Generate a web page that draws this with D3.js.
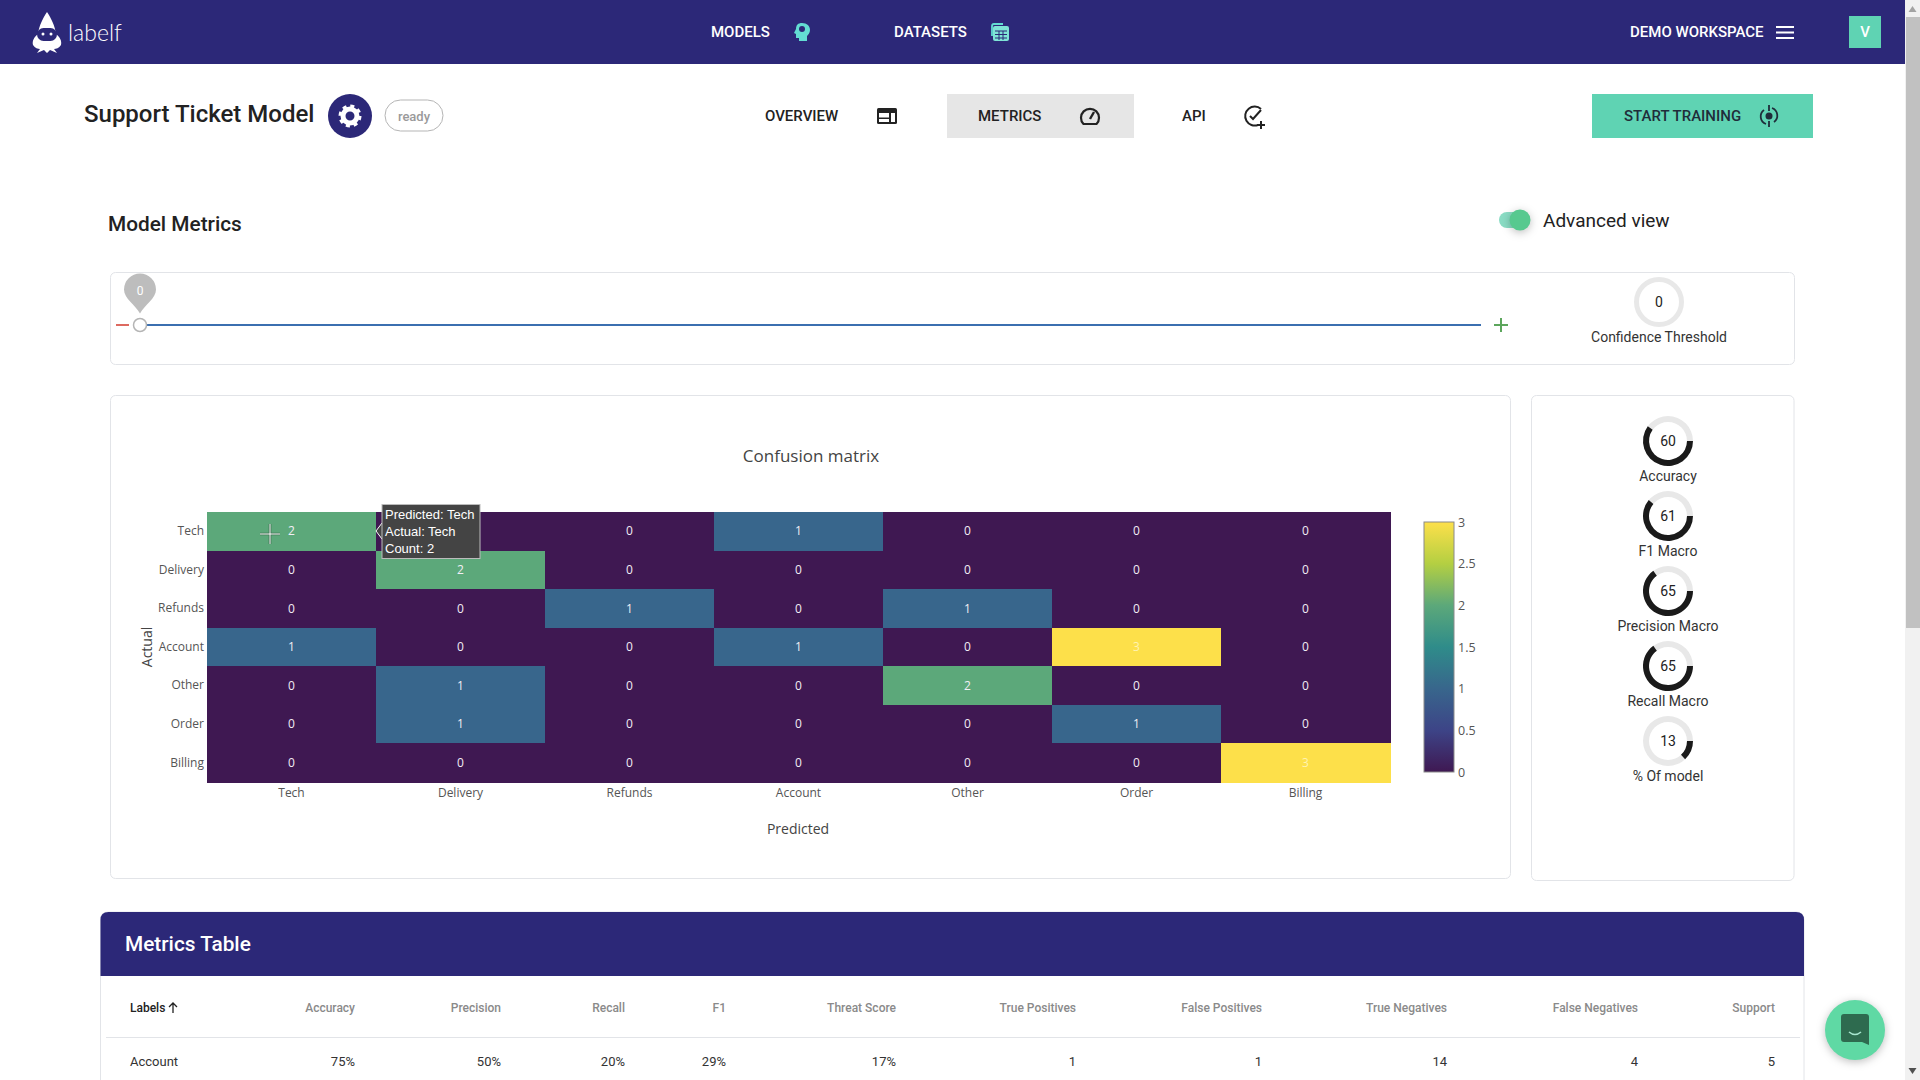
<!DOCTYPE html>
<html>
<head>
<meta charset="utf-8">
<title>Support Ticket Model</title>
<script src="https://cdn.jsdelivr.net/npm/d3@7"></script>
<style>
  html, body { margin: 0; padding: 0; background: #fff; overflow: hidden; }
  svg { display: block; }
  text { font-family: Roboto, sans-serif; }
  .plot text { font-family: "Open Sans", sans-serif; }
  .axis path, .axis line { display: none; }
  .shadow { filter: drop-shadow(0 2px 4px rgba(0, 0, 0, 0.25)); }
</style>
</head>
<body>
<div id="page"></div>
<script>
// Confusion matrix values
var predicted = ["Tech", "Delivery", "Refunds", "Account", "Other", "Order", "Billing"];
var actual = ["Tech", "Delivery", "Refunds", "Account", "Other", "Order", "Billing"];
var techRow = [2, 0, 0, 1, 0, 0, 0];
var deliveryRow = [0, 2, 0, 0, 0, 0, 0];
var refundsRow = [0, 0, 1, 0, 1, 0, 0];
var accountRow = [1, 0, 0, 1, 0, 3, 0];
var otherRow = [0, 1, 0, 0, 2, 0, 0];
var orderRow = [0, 1, 0, 0, 0, 1, 0];
var billingRow = [0, 0, 0, 0, 0, 0, 3];
var matrixRows = [techRow, deliveryRow, refundsRow, accountRow, otherRow, orderRow, billingRow];

// Colour bar
var colorValues = [0, 0.5, 1, 1.5, 2, 2.5, 3];
var colorRange = ["#3f1852", "#3d4487", "#38668c", "#2f8c8a", "#5ca87a", "#b4cf42", "#fde04a"];
var colorTicks = [0, 0.5, 1, 1.5, 2, 2.5, 3];

// Ring gauges
var ringLabels = ["Accuracy", "F1 Macro", "Precision Macro", "Recall Macro", "% Of model"];
var ringValues = [60, 61, 65, 65, 13];

// Metrics table
var tableHeaders = ["Accuracy", "Precision", "Recall", "F1", "Threat Score", "True Positives", "False Positives", "True Negatives", "False Negatives", "Support"];
var tableRow = ["75%", "50%", "20%", "29%", "17%", "1", "1", "14", "4", "5"];
var tableRight = [355, 501, 625, 726, 896, 1076, 1262, 1447, 1638, 1775];

var navy = "#2c2878";
var teal = "#5fd3b3";

var svg = d3.select("#page").append("svg")
    .attr("width", 1920)
    .attr("height", 1080);

function label(parent, x, y, str, size, color, weight, anchor) {
    return parent.append("text")
        .attr("x", x)
        .attr("y", y)
        .attr("dy", "0.35em")
        .attr("font-size", size)
        .attr("fill", color)
        .attr("font-weight", weight || 400)
        .attr("text-anchor", anchor || "start")
        .text(str);
}

function panel(x, y, w, h) {
    svg.append("rect")
        .attr("x", x).attr("y", y).attr("width", w).attr("height", h)
        .attr("rx", 5)
        .attr("fill", "#fff")
        .attr("stroke", "#e2e4e8");
}

function icon(x, y, d, stroke, fill, width) {
    return svg.append("path")
        .attr("transform", `translate(${x}, ${y})`)
        .attr("d", d)
        .attr("fill", fill || "none")
        .attr("stroke", stroke || "none")
        .attr("stroke-width", width || 2);
}

// Nav bar
// ==============================
svg.append("rect").attr("width", 1905).attr("height", 64).attr("fill", navy);
icon(47, 12, "M0 0C4 6 8 14 9 22C13 25 15 29 14 33C12 36 9 37 7 37L10 41L3 38L0 41L-3 38L-10 41L-7 37C-9 37 -12 36 -14 33C-15 29 -13 25 -9 22C-8 14 -4 6 0 0Z", null, "#fff");
svg.append("rect").attr("x", 37).attr("y", 28).attr("width", 20).attr("height", 13).attr("rx", 6.5).attr("fill", navy);
svg.append("circle").attr("cx", 43).attr("cy", 34).attr("r", 1.5).attr("fill", "#fff");
svg.append("circle").attr("cx", 51).attr("cy", 34).attr("r", 1.5).attr("fill", "#fff");
label(svg, 68, 33, "labelf", 23, "#fff", 300).attr("style", "font-family: Lato, sans-serif");

label(svg, 711, 32, "MODELS", 15, "#fff", 500);
icon(802, 32, "M0 -9C5 -9 8 -6 8 -2C8 1 6 3 5 4L5 9L-3 9L-3 6L-6 6L-6 2L-8 1L-6 -3C-6 -7 -4 -9 0 -9Z", null, "#63dcd3");
svg.append("circle").attr("cx", 802).attr("cy", 29).attr("r", 3).attr("fill", navy);
label(svg, 894, 32, "DATASETS", 15, "#fff", 500);
icon(991, 23, "M1 13L1 3Q1 1 3 1L12 1", "#63dcd3", null, 1.8);
icon(993, 26, "M2 0H14Q16 0 16 2V13Q16 15 14 15H2Q0 15 0 13V2Q0 0 2 0Z", null, "#7fe3d6");
icon(993, 26, "M2 5H14M2 8.5H14M2 12H14M6 5V14M10 5V14", navy, null, 1);

label(svg, 1630, 32, "DEMO WORKSPACE", 15, "#fff", 500);
icon(1776, 27, "M0 0H18M0 5.5H18M0 11H18", "#fff", null, 2.2);
svg.append("rect").attr("x", 1849).attr("y", 16).attr("width", 32).attr("height", 32).attr("fill", teal);
label(svg, 1865, 32, "V", 15, "#fff", 500, "middle");

// Title row
// ==============================
label(svg, 84, 114, "Support Ticket Model", 24, "#222", 500);
svg.append("circle").attr("cx", 350).attr("cy", 116).attr("r", 22).attr("fill", navy);
svg.append("circle").attr("cx", 350).attr("cy", 116).attr("r", 7).attr("fill", "none").attr("stroke", "#fff").attr("stroke-width", 5);
svg.append("circle").attr("cx", 350).attr("cy", 116).attr("r", 10).attr("fill", "none").attr("stroke", "#fff").attr("stroke-width", 3).attr("stroke-dasharray", "4 3.85");
svg.append("rect").attr("x", 385).attr("y", 100).attr("width", 58).attr("height", 31).attr("rx", 15.5).attr("fill", "#fff").attr("stroke", "#b5b5b5");
label(svg, 414, 116, "ready", 13, "#9a9a9a", 500, "middle");

label(svg, 765, 116, "OVERVIEW", 15, "#222", 500);
icon(877, 108, "M1.5 0H18.5Q20 0 20 1.5V14.5Q20 16 18.5 16H1.5Q0 16 0 14.5V1.5Q0 0 1.5 0Z", null, "#222");
svg.append("rect").attr("x", 879).attr("y", 113).attr("width", 10).attr("height", 4.5).attr("fill", "#fff");
svg.append("rect").attr("x", 879).attr("y", 119).attr("width", 10).attr("height", 3).attr("fill", "#fff");
svg.append("rect").attr("x", 891).attr("y", 113).attr("width", 4).attr("height", 9).attr("fill", "#fff");

svg.append("rect").attr("x", 947).attr("y", 94).attr("width", 187).attr("height", 44).attr("fill", "#e6e6e6");
label(svg, 978, 116, "METRICS", 15, "#222", 500);
icon(1090, 117, "M-6.5 7A9 9 0 1 1 6.5 7Z", "#222", null, 2.2);
icon(1090, 117, "M0 2L4 -5", "#222", null, 2.4);
label(svg, 1182, 116, "API", 15, "#222", 500);
icon(1254, 116, "M7 -7A9.5 9.5 0 1 0 4 9M-4 0L-1 3L7 -6M7 5V13M3 9H11", "#222", null, 2);

svg.append("rect").attr("x", 1592).attr("y", 94).attr("width", 221).attr("height", 44).attr("fill", teal);
label(svg, 1624, 116, "START TRAINING", 15, "#1f2d3a", 500);
icon(1769, 116, "M-5 -6A8 8 0 0 0 -3 8M5 6A8 8 0 0 0 3 -8M0 -11V-5M0 11V5", "#1f2d3a", null, 1.8);
svg.append("circle").attr("cx", 1769).attr("cy", 116).attr("r", 3.5).attr("fill", "#1f2d3a");

label(svg, 108, 224, "Model Metrics", 20.8, "#222", 500);
svg.append("rect").attr("x", 1499).attr("y", 212).attr("width", 31).attr("height", 16).attr("rx", 8).attr("fill", "#8adcc4");
svg.append("circle").attr("cx", 1520).attr("cy", 220).attr("r", 10.5).attr("fill", "#57c98f").attr("class", "shadow");
label(svg, 1543, 220, "Advanced view", 19, "#222", 400);

// Threshold panel
// ==============================
panel(110.5, 272.5, 1684, 92);
icon(140, 276.5, "M0 37C-5 28 -16 22 -16 13A16 16 0 0 1 16 13C16 22 5 28 0 37Z", null, "#bdbdbd");
label(svg, 140, 291, "0", 12, "#fff", 400, "middle");
svg.append("line").attr("x1", 147).attr("x2", 1481).attr("y1", 325).attr("y2", 325).attr("stroke", "#3b6fb0").attr("stroke-width", 2.2);
svg.append("line").attr("x1", 116).attr("x2", 129).attr("y1", 325).attr("y2", 325).attr("stroke", "#dd6a60").attr("stroke-width", 2);
svg.append("circle").attr("cx", 140).attr("cy", 325).attr("r", 6.5).attr("fill", "#fff").attr("stroke", "#b5b5b5").attr("stroke-width", 1.5);
icon(1501, 325, "M-7 0H7M0 -7V7", "#5ca65c", null, 2);
svg.append("circle").attr("cx", 1659).attr("cy", 302).attr("r", 22.5).attr("fill", "none").attr("stroke", "#e8e8e8").attr("stroke-width", 5);
label(svg, 1659, 302, "0", 14, "#222", 400, "middle");
label(svg, 1659, 337, "Confidence Threshold", 14, "#333", 400, "middle");

// Confusion matrix
// ==============================
panel(110.5, 395.5, 1400, 483);

var plot = svg.append("g").attr("class", "plot");

var xScale = d3.scaleBand().domain(predicted).range([207, 1390]);
var yScale = d3.scaleBand().domain(actual).range([512, 782]);
var colorScale = d3.scaleLinear().domain(colorValues).range(colorRange);

var cells = [];
matrixRows.forEach(function (row, i) {
    row.forEach(function (count, j) {
        cells.push({ actual: actual[i], predicted: predicted[j], count: count });
    });
});

plot.append("g").selectAll("rect")
    .data(cells)
    .enter()
    .append("rect")
    .attr("x", d => xScale(d.predicted))
    .attr("y", d => yScale(d.actual))
    .attr("width", xScale.bandwidth() + 0.5)
    .attr("height", yScale.bandwidth() + 0.5)
    .attr("shape-rendering", "crispEdges")
    .attr("fill", d => colorScale(d.count));

plot.append("g").selectAll("text")
    .data(cells)
    .enter()
    .append("text")
    .attr("x", d => xScale(d.predicted) + xScale.bandwidth() / 2)
    .attr("y", d => yScale(d.actual) + yScale.bandwidth() / 2)
    .attr("dy", "0.35em")
    .attr("text-anchor", "middle")
    .attr("font-size", 12)
    .attr("fill", d => d.count == 3 ? "#fff3b0" : "#f2eef5")
    .text(d => d.count);

var bottomAxis = d3.axisBottom(xScale).tickSize(0).tickPadding(6);
var leftAxis = d3.axisLeft(yScale).tickSize(0).tickPadding(3);

var xAxisGroup = plot.append("g").attr("class", "axis")
    .attr("transform", "translate(0, 782)")
    .call(bottomAxis);
xAxisGroup.selectAll("text").attr("font-size", 12).attr("fill", "#555").attr("style", "font-family: 'Open Sans', sans-serif");

var yAxisGroup = plot.append("g").attr("class", "axis")
    .attr("transform", "translate(207, 0)")
    .call(leftAxis);
yAxisGroup.selectAll("text").attr("font-size", 12).attr("fill", "#555").attr("style", "font-family: 'Open Sans', sans-serif");

label(plot, 811, 456, "Confusion matrix", 17, "#444", 400, "middle");
label(plot, 798, 829, "Predicted", 14, "#444", 400, "middle");
plot.append("text")
    .attr("transform", "translate(147, 647) rotate(-90)")
    .attr("dy", "0.35em")
    .attr("text-anchor", "middle")
    .attr("font-size", 14)
    .attr("fill", "#444")
    .text("Actual");

// Colour bar
var gradient = svg.append("defs").append("linearGradient")
    .attr("id", "viridisBar")
    .attr("x1", 0).attr("x2", 0).attr("y1", 1).attr("y2", 0);
gradient.selectAll("stop")
    .data(colorValues)
    .enter()
    .append("stop")
    .attr("offset", d => d / 3)
    .attr("stop-color", d => colorScale(d));

var barScale = d3.scaleLinear().domain([0, 3]).range([772, 522]);
plot.append("rect")
    .attr("x", 1424).attr("y", barScale(3))
    .attr("width", 30).attr("height", barScale(0) - barScale(3))
    .attr("fill", "url(#viridisBar)")
    .attr("stroke", "#8a8a8a");

var barAxisGroup = plot.append("g").attr("class", "axis")
    .attr("transform", "translate(1454, 0)")
    .call(d3.axisRight(barScale).tickValues(colorTicks).tickSize(0).tickPadding(4).tickFormat(d3.format("~g")));
barAxisGroup.selectAll("text").attr("font-size", 12.5).attr("fill", "#555").attr("style", "font-family: 'Open Sans', sans-serif");

// Hover crosshair and tooltip
icon(270, 534, "M-10 0H10M0 -10V10", "#3a6b4c", null, 2.6);
icon(270, 534, "M-10 0H10M0 -10V10", "#fff", null, 1);
icon(382, 531, "M0 -8L-6 0L0 8", "#fff", "#444", 1);
svg.append("rect").attr("x", 382).attr("y", 504.5).attr("width", 98).attr("height", 54)
    .attr("fill", "#444").attr("stroke", "#bbb");
["Predicted: Tech", "Actual: Tech", "Count: 2"].forEach(function (line, i) {
    label(svg, 385, 514 + i * 17, line, 13, "#fff", 400).attr("style", "font-family: 'Liberation Sans', sans-serif");
});

// Ring gauges
// ==============================
panel(1531.5, 395.5, 262.5, 485);

var ringY = d3.scalePoint().domain(ringLabels).range([441, 741]);
var ringAngle = d3.scaleLinear().domain([0, 100]).range([Math.PI / 2, Math.PI * 2.5]);
var ringArc = d3.arc().innerRadius(19).outerRadius(25);

ringLabels.forEach(function (name, i) {
    var g = svg.append("g").attr("transform", `translate(1668, ${ringY(name)})`);
    g.append("path")
        .attr("d", ringArc({ startAngle: 0, endAngle: Math.PI * 2 }))
        .attr("fill", "#e8e8e8");
    g.append("path")
        .attr("d", ringArc({ startAngle: ringAngle(0), endAngle: ringAngle(ringValues[i]) }))
        .attr("fill", "#1a1a1a");
    label(g, 0, 0, ringValues[i], 14, "#222", 400, "middle");
    label(g, 0, 35, name, 14, "#333", 400, "middle");
});

// Metrics table
// ==============================
svg.append("path")
    .attr("d", "M100.5 1080V920Q100.5 912 108.5 912H1796Q1804 912 1804 920V1080")
    .attr("fill", "#fff")
    .attr("stroke", "#e2e4e8");
svg.append("path")
    .attr("d", "M100.5 976V920Q100.5 912 108.5 912H1796Q1804 912 1804 920V976Z")
    .attr("fill", navy);
label(svg, 125, 944, "Metrics Table", 20.8, "#fff", 500);

label(svg, 130, 1008, "Labels", 12, "#222", 500);
icon(173, 1008, "M0 5V-5M-4 -1L0 -5L4 -1", "#222", null, 1.3);
tableHeaders.forEach(function (name, i) {
    label(svg, tableRight[i], 1008, name, 12, "#8a8a8a", 500, "end");
});
svg.append("line").attr("x1", 106).attr("x2", 1800).attr("y1", 1037.5).attr("y2", 1037.5).attr("stroke", "#e2e4e8");
label(svg, 130, 1061, "Account", 13, "#333", 400);
tableRow.forEach(function (value, i) {
    label(svg, tableRight[i], 1061, value, 13, "#333", 400, "end");
});

// Chat bubble
svg.append("circle").attr("cx", 1855).attr("cy", 1030).attr("r", 30).attr("fill", "#5fd9a4").attr("class", "shadow");
icon(1841, 1014, "M3 0H25Q28 0 28 3V31L21 28H3Q0 28 0 25V3Q0 0 3 0Z", null, "#2e6b4f");
icon(1855, 1032, "M-6 0Q0 5 6 0", "#a8e6cf", null, 1.6);

// Scrollbar
svg.append("rect").attr("x", 1905).attr("width", 15).attr("height", 1080).attr("fill", "#f1f1f1");
svg.append("rect").attr("x", 1906).attr("y", 17).attr("width", 14).attr("height", 611).attr("fill", "#c1c1c1");
icon(1912.5, 6, "M0 0L4 6H-4Z", null, "#a3a3a3");
icon(1912.5, 1068, "M0 6L4 0H-4Z", null, "#505050");
</script>
</body>
</html>
